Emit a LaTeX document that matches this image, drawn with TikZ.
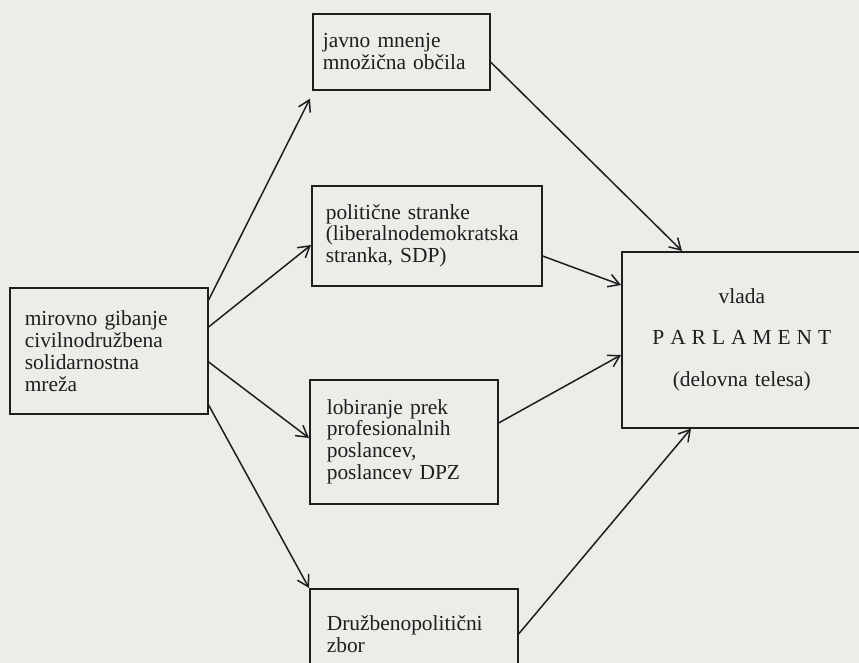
\documentclass[tikz,border=0pt]{standalone}
\usepackage{fontspec}
\setmainfont{Liberation Serif}
\usetikzlibrary{arrows.meta,calc}
\definecolor{ink}{RGB}{30,30,30}
\definecolor{paper}{RGB}{236,236,233}
\newcommand{\lsp}{\kern 6bp}
\begin{document}
\begin{tikzpicture}[x=1bp,y=-1bp,
  box/.style={draw=ink, line width=1.6bp, rectangle, anchor=north west,
    inner ysep=0pt, align=left, text=ink,
    font=\fontsize{21.5}{22}\selectfont},
  conn/.style={draw=ink, line width=1.5bp,
    -{Straight Barb[length=11bp,width=13bp,line width=1.5bp]}}]
\fill[paper] (0,0) rectangle (859,663);
\useasboundingbox (0,0) rectangle (859,663);
\clip (0,0) rectangle (859,663);

\node[box, minimum width=198bp, minimum height=126bp, text width=168bp, inner xsep=15bp] (L) at (9,287)
  {mirovno gibanje\\civilnodružbena\\solidarnostna\\mreža};
\node[box, minimum width=177bp, minimum height=76bp, text width=157bp, inner xsep=10bp] (J) at (312,13)
  {javno mnenje\\množična občila};
\node[box, minimum width=230bp, minimum height=100bp, text width=202bp, inner xsep=14bp] (P) at (311,185)
  {politične stranke\\(liberalnodemokratska\\stranka, SDP)};
\node[box, minimum width=188bp, minimum height=124bp, text width=154bp, inner xsep=17bp] (B) at (309,379)
  {lobiranje prek\\profesionalnih\\poslancev,\\poslancev DPZ};
\node[box, minimum width=208bp, minimum height=90bp, text width=174bp, inner xsep=17bp] (D) at (309,588)
  {Družbenopolitični\\zbor};
\node[box, minimum width=240bp, minimum height=176bp, text width=230bp, inner xsep=5bp, align=center,
  font=\fontsize{21.5}{42}\selectfont] (R) at (621,251)
  {vlada\\P\lsp A\lsp R\lsp L\lsp A\lsp M\lsp E\lsp N\lsp T\\(delovna telesa)};

\draw[conn] ($(L.north east)+(0,13)$) -- ($(J.south west)+(-2,8)$);
\draw[conn] ($(L.north east)+(0,40)$) -- ($(P.north west)+(0,60)$);
\draw[conn] ($(L.north east)+(0,75)$) -- ($(B.north west)+(0,59)$);
\draw[conn] ($(L.north east)+(0,118)$) -- (D.north west);
\draw[conn] ($(J.north east)+(0,49)$) -- ($(R.north west)+(61,0)$);
\draw[conn] ($(P.north east)+(0,71)$) -- ($(R.north west)+(0,34)$);
\draw[conn] ($(B.north east)+(0,44)$) -- ($(R.north west)+(0,104)$);
\draw[conn] ($(D.north east)+(0,46)$) -- ($(R.south west)+(70,0)$);
\end{tikzpicture}
\end{document}
